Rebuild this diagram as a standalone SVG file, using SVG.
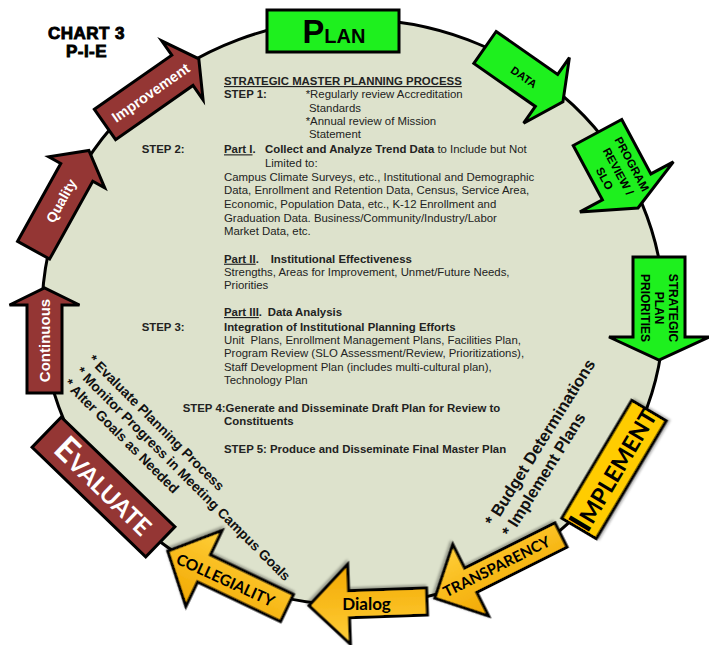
<svg xmlns="http://www.w3.org/2000/svg" width="709" height="645" viewBox="0 0 709 645">
<defs>
<linearGradient id="gold" x1="0" y1="0" x2="0" y2="1"><stop offset="0" stop-color="#ffcf3a"/><stop offset="1" stop-color="#f2a800"/></linearGradient>
<linearGradient id="gold2" x1="0" y1="0" x2="0" y2="1"><stop offset="0" stop-color="#f2a800"/><stop offset="1" stop-color="#ffcf3a"/></linearGradient>
<filter id="sh" x="-20%" y="-30%" width="140%" height="160%"><feDropShadow dx="1.5" dy="2" stdDeviation="1.2" flood-color="#000" flood-opacity="0.3"/></filter>
</defs>
<style>
.s{stroke:#000;stroke-width:3;stroke-linejoin:miter}
.green{fill:#1ef01e}
.maroon{fill:#943634}
.gold{fill:url(#gold)}
.body{font-family:"Liberation Sans",Arial,sans-serif;font-size:11.4px;fill:#222}
.b{font-weight:bold}
.u{text-decoration:underline}
.lbl{font-family:"Liberation Sans",Arial,sans-serif;font-weight:bold}
.wt{fill:#fff}
.cal{font-family:Lato,"Liberation Sans",sans-serif;font-weight:bold}
.note{font-family:"Liberation Sans",Arial,sans-serif;fill:#111;font-weight:bold}
</style>
<rect width="709" height="645" fill="#fff"/>
<g id="connectors">
<ellipse cx="353" cy="312" rx="311" ry="293" fill="#dde2cc" stroke="#000" stroke-width="3"/>
</g>
<g id="chart-title" class="lbl" font-size="17" text-anchor="middle" stroke="#000" stroke-width="0.9">
<text x="86.5" y="39" letter-spacing="0.5">CHART 3</text>
<text x="86.5" y="57" letter-spacing="0.5">P-I-E</text>
</g>
<g id="process-text" class="body">
<text x="224" y="85" class="b u">STRATEGIC MASTER PLANNING PROCESS</text>
<text x="224" y="98.3" class="b">STEP 1:</text>
<text x="305.7" y="98.3">*Regularly review Accreditation</text>
<text x="309" y="111.7">Standards</text>
<text x="305.7" y="125">*Annual review of Mission</text>
<text x="309" y="138.3">Statement</text>
<text x="141.7" y="153.3" class="b">STEP 2:</text>
<text x="224" y="153.3" class="b"><tspan class="u">Part I</tspan>.</text>
<text x="265" y="153.3"><tspan class="b">Collect and Analyze Trend Data</tspan> to Include but Not</text>
<text x="265" y="166.7">Limited to:</text>
<text x="224" y="181">Campus Climate Surveys, etc., Institutional and Demographic</text>
<text x="224" y="194.3">Data, Enrollment and Retention Data, Census, Service Area,</text>
<text x="224" y="208">Economic, Population Data, etc., K-12 Enrollment and</text>
<text x="224" y="221.7">Graduation Data. Business/Community/Industry/Labor</text>
<text x="224" y="235">Market Data, etc.</text>
<text x="224" y="262.7" class="b"><tspan class="u">Part II</tspan>.</text>
<text x="270.7" y="262.7" class="b">Institutional Effectiveness</text>
<text x="224" y="276">Strengths, Areas for Improvement, Unmet/Future Needs,</text>
<text x="224" y="289.3">Priorities</text>
<text x="224" y="316" class="b"><tspan class="u">Part III</tspan>.</text>
<text x="267.7" y="316" class="b">Data Analysis</text>
<text x="141.7" y="330.7" class="b">STEP 3:</text>
<text x="224" y="330.7" class="b">Integration of Institutional Planning Efforts</text>
<text x="224" y="343.7">Unit&#160; Plans, Enrollment Management Plans, Facilities Plan,</text>
<text x="224" y="357.3">Program Review (SLO Assessment/Review, Prioritizations),</text>
<text x="224" y="371">Staff Development Plan (includes multi-cultural plan),</text>
<text x="224" y="384.3">Technology Plan</text>
<text x="182.7" y="411.7" class="b">STEP 4:Generate and Disseminate Draft Plan for Review to</text>
<text x="224" y="425.3" class="b">Constituents</text>
<text x="224" y="452.7" class="b">STEP 5: Produce and Disseminate Final Master Plan</text>
</g>
<g id="evaluate-notes" class="note" font-size="13.8" transform="translate(87.5,360.5) rotate(45)">
<text x="0" y="0">* Evaluate Planning Process</text>
<text x="0" y="17">* Monitor Progress in Meeting Campus Goals</text>
<text x="0" y="34">* Alter Goals as Needed</text>
</g>
<g id="implement-notes" class="note" font-size="16.5" transform="translate(493.8,527.1) rotate(-58)">
<text x="0" y="0">* Budget Determinations</text>
<text x="0" y="20">* Implement Plans</text>
</g>
<g id="plan">
<rect class="s green" x="267" y="10" width="132" height="42"/>
<text class="lbl" x="334" y="42.7" text-anchor="middle"><tspan font-size="32.7">P</tspan><tspan font-size="20">LAN</tspan></text>
</g>
<g id="data" transform="translate(485,47.5) rotate(34.9)">
<polygon class="s green" points="0,-19.5 75,-19.5 75,-40 95,0 75,40 75,19.5 0,19.5"/>
<text class="lbl" font-size="11" x="48.9" y="5.9" text-anchor="middle">DATA</text>
</g>
<g id="program-review" transform="translate(597.5,132.5) rotate(61.8)">
<polygon class="s green" points="0,-27.5 61.7,-27.5 61.7,-53 85.7,0 61.7,53 61.7,27.5 0,27.5"/>
<g class="lbl" font-size="11.5" text-anchor="middle">
<text x="44" y="-11.4">PROGRAM</text>
<text x="44" y="4.1">REVIEW /</text>
<text x="44" y="19.6">SLO</text>
</g>
</g>
<g id="strategic-plan" transform="translate(659,257) rotate(90)">
<polygon class="s green" points="0,-26 80,-26 80,-50 103,0 80,50 80,26 0,26"/>
<g class="lbl" font-size="12" text-anchor="middle">
<text x="51" y="-9.7">STRATEGIC</text>
<text x="51" y="4.3">PLAN</text>
<text x="51" y="18.3">PRIORITIES</text>
</g>
</g>
<g id="implement" transform="translate(614,469.5) rotate(-59.3)">
<rect class="s" fill="#ffcc00" x="-68.5" y="-20" width="137" height="40" filter="url(#sh)"/>
<text class="cal" x="0" y="10" text-anchor="middle" fill="#000"><tspan font-size="33">I</tspan><tspan font-size="23">MPLEMENT</tspan></text>
</g>
<g id="transparency">
<polygon class="s" fill="url(#gold2)" filter="url(#sh)" transform="translate(561,535) rotate(153.4)" points="0,-13.5 101,-13.5 101,-40 141,0 101,40 101,13.5 0,13.5"/>
<text class="cal" font-size="15" transform="translate(496.5,566.5) rotate(-26.6)" x="0" y="5.4" text-anchor="middle">TRANSPARENCY</text>
</g>
<g id="dialog">
<polygon class="s gold" filter="url(#sh)" transform="translate(427,601.5) rotate(178)" points="0,-13.5 78,-13.5 78,-40 118,0 78,40 78,13.5 0,13.5"/>
<text class="cal" font-size="17" x="366.5" y="610" text-anchor="middle">Dialog</text>
</g>
<g id="collegiality">
<polygon class="s" fill="url(#gold2)" filter="url(#sh)" transform="translate(287,608) rotate(205.5)" points="0,-15 92,-15 92,-42 132,0 92,42 92,15 0,15"/>
<text class="cal" font-size="15.5" transform="translate(225.5,580) rotate(24.5)" x="0" y="5.6" text-anchor="middle">COLLEGIALITY</text>
</g>
<g id="evaluate" transform="translate(103.5,487) rotate(44)">
<rect class="s maroon" x="-79" y="-21" width="158" height="42"/>
<text class="cal wt" x="0" y="10" text-anchor="middle"><tspan font-size="34">E</tspan><tspan font-size="24">VALUATE</tspan></text>
</g>
<g id="continuous" transform="translate(44.5,393) rotate(-90)">
<polygon class="s maroon" points="0,-17.5 88,-17.5 88,-35 105,0 88,35 88,17.5 0,17.5"/>
<text class="lbl wt" font-size="15" x="52.5" y="5.4" text-anchor="middle">Continuous</text>
</g>
<g id="quality" transform="translate(33.6,250.2) rotate(-61)">
<polygon class="s maroon" points="0,-18.3 89,-18.3 89,-32 114,0 89,32 89,18.3 0,18.3"/>
<text class="lbl wt" font-size="14" x="56.6" y="5" text-anchor="middle">Quality</text>
</g>
<g id="improvement" transform="translate(105,124.5) rotate(-35)">
<polygon class="s maroon" points="0,-18.5 94.5,-18.5 94.5,-36 114.5,0 94.5,36 94.5,18.5 0,18.5"/>
<text class="lbl wt" font-size="14.5" x="55.7" y="5.2" text-anchor="middle">Improvement</text>
</g>
</svg>
